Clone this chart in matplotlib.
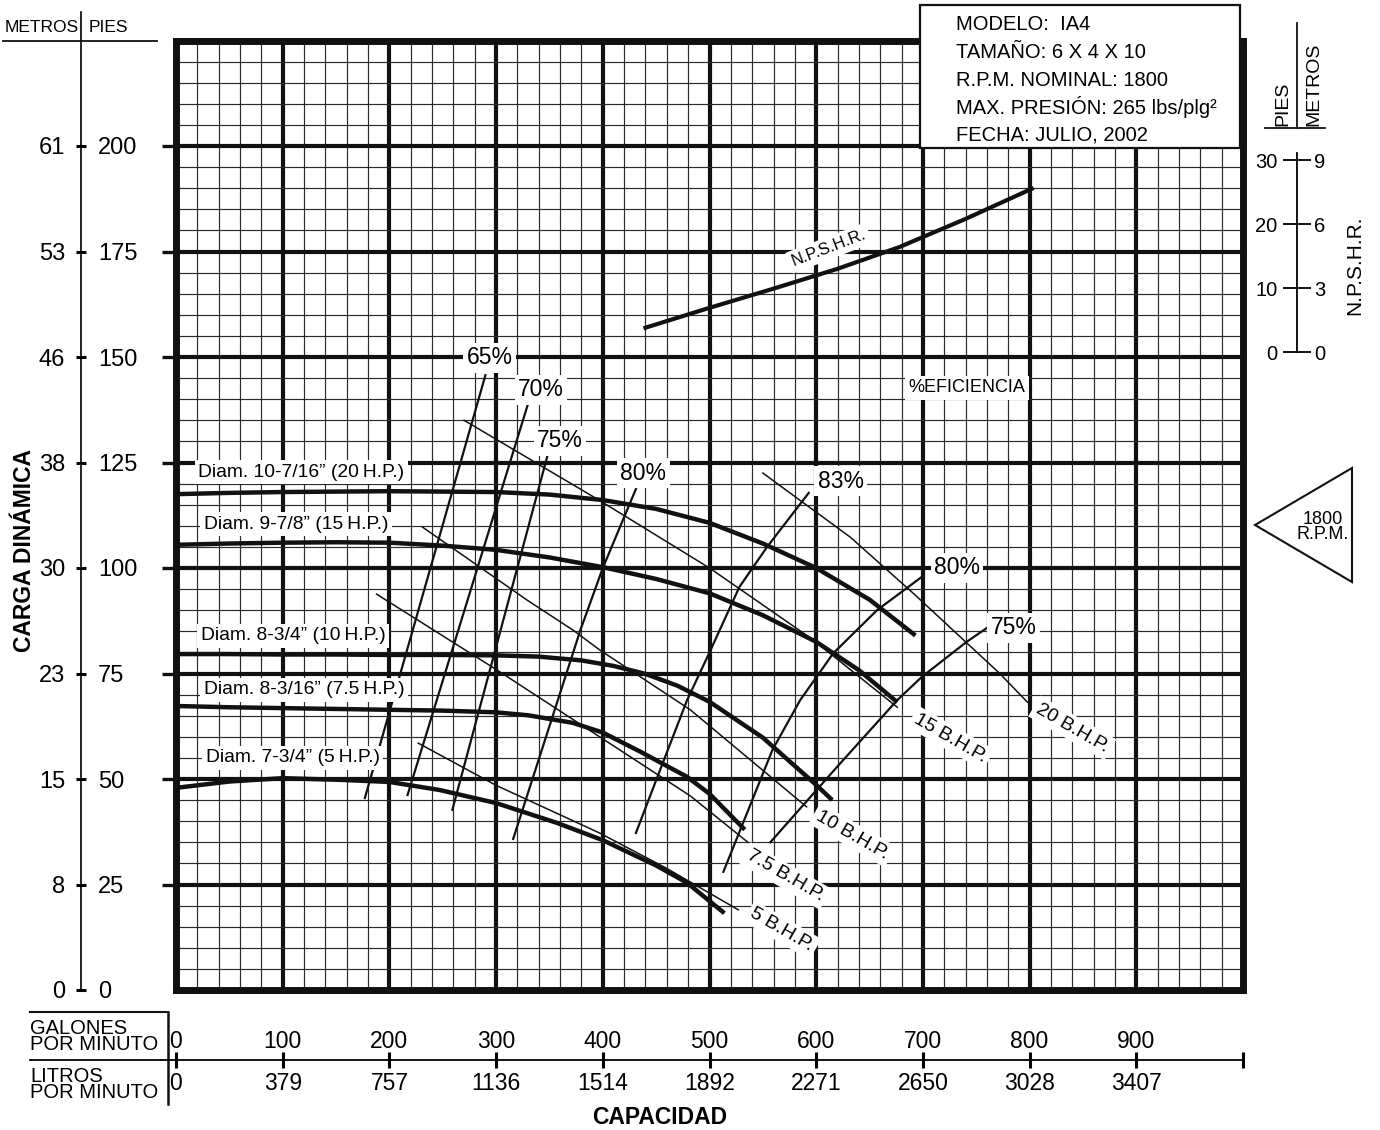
import numpy as np
import matplotlib
matplotlib.use("Agg")
import matplotlib.pyplot as plt
from matplotlib.patches import Rectangle, Polygon
from matplotlib.lines import Line2D

plt.rcParams['font.family'] = ['Liberation Sans', 'DejaVu Sans']

# ---- data (capacity in gpm, head in ft) ----
h20_q = [0, 50, 100, 150, 200, 250, 300, 350, 400, 450, 500, 550, 600, 650, 693]
h20_h = [117.5, 117.8, 118, 118.1, 118.2, 118.1, 118, 117.4, 116.1, 114, 110.7, 105.8, 100, 92.5, 84]
h15_q = [0, 50, 100, 150, 200, 250, 300, 350, 400, 450, 500, 550, 600, 640, 676]
h15_h = [105.5, 105.8, 106, 106.1, 106, 105.3, 104.3, 102.5, 100.2, 97.4, 94, 88.8, 82.5, 75.8, 68.2]
h10_q = [0, 50, 100, 150, 200, 250, 300, 340, 380, 410, 440, 470, 500, 550, 600, 615]
h10_h = [79.6, 79.6, 79.5, 79.5, 79.4, 79.4, 79.3, 79, 78.1, 76.8, 74.9, 72.1, 68.3, 59.8, 48.6, 45]
h75_q = [0, 50, 100, 150, 200, 250, 300, 330, 372, 400, 435, 479, 500, 533]
h75_h = [67.3, 67, 66.8, 66.6, 66.4, 66.2, 65.8, 65.1, 63.3, 61, 56.5, 50.5, 46.5, 38]
h5_q = [0, 50, 100, 154, 200, 247, 300, 357, 400, 450, 479, 514]
h5_h = [47.9, 49.4, 50.2, 49.8, 49.3, 47.4, 44.3, 39.6, 35.5, 29.5, 25.4, 18.2]

diam_labels = ['Diam. 10-7/16\u201d (20\u2009H.P.)', 'Diam. 9-7/8\u201d (15\u2009H.P.)',
               'Diam. 8-3/4\u201d (10\u2009H.P.)', 'Diam. 8-3/16\u201d (7.5\u2009H.P.)',
               'Diam. 7-3/4\u201d (5\u2009H.P.)']
diam_lab_q = [21, 26, 23, 26, 28]
diam_lab_h = [122.7, 110.4, 83.9, 71.1, 55]

# efficiency iso-lines
e65_q, e65_h = [177, 290], [45.5, 145.7]
e70_q, e70_h = [217, 331], [46.2, 139.8]
e75_q, e75_h = [259, 348], [42.7, 126.5]
e80a_q, e80a_h = [316, 379, 400, 431], [35.8, 85.3, 100, 118.7]
e83_q, e83_h = [431, 455, 479, 500, 528, 554, 593], [37.2, 53, 68.7, 80, 95.5, 105, 117.8]
e80b_q, e80b_h = [513, 559, 585, 616, 657, 699], [28, 56.9, 68.7, 79.8, 90, 97.9]
e75b_q, e75b_h = [557, 620, 676, 699, 741, 760], [35, 53, 68.7, 74.2, 82.5, 85.8]
eff_labels = ['65%', '70%', '75%', '80%', '83%', '80%', '75%']
eff_lab_q = [294, 342, 360, 438, 623, 732, 785]
eff_lab_h = [149.8, 142.2, 130.1, 122.5, 120.6, 100, 85.8]

# brake horsepower lines
b20_q, b20_h = [550, 632, 691, 772, 798], [122.5, 107.3, 94, 75, 68.2]
b15_q, b15_h = [270, 397, 500, 597, 676], [135, 116, 100, 83, 67]
b10_q, b10_h = [231, 329, 372, 397, 482, 591], [109.7, 92.4, 85.3, 80.6, 66.4, 43.4]
b75_q, b75_h = [188, 301, 397, 482, 536], [93.8, 75.8, 60, 46, 35]
b5_q, b5_h = [227, 300, 397, 460, 527], [58.5, 48.5, 37.2, 28.8, 19]
bhp_labels = ['20 B.H.P.', '15 B.H.P.', '10 B.H.P.', '7.5 B.H.P.', '5 B.H.P.']
bhp_lab_q = [840, 726, 634, 571, 568]
bhp_lab_h = [62.1, 59.7, 36.7, 27.0, 14.2]

# NPSHR (ft, on its own scale)
npsh_q = [440, 500, 560, 620, 678, 740, 802]
npsh_h = [3.8, 6.9, 9.9, 13.0, 16.4, 20.8, 25.5]

head_ticks = [0, 25, 50, 75, 100, 125, 150, 175, 200]
metros_labels = ['0', '8', '15', '23', '30', '38', '46', '53', '61']
pies_labels = ['0', '25', '50', '75', '100', '125', '150', '175', '200']
gpm_ticks = [0, 100, 200, 300, 400, 500, 600, 700, 800, 900, 1000]
gpm_labels = ['0', '100', '200', '300', '400', '500', '600', '700', '800', '900', '']
lpm_labels = ['0', '379', '757', '1136', '1514', '1892', '2271', '2650', '3028', '3407', '']
npsh_ticks = [0, 10, 20, 30]
npsh_pies = ['0', '10', '20', '30']
npsh_metros = ['0', '3', '6', '9']

info_lines = ['MODELO:  IA4', 'TAMAÑO: 6 X 4 X 10', 'R.P.M. NOMINAL: 1800',
              'MAX. PRESIÓN: 265 lbs/plg\u00b2', 'FECHA: JULIO, 2002']

W, H = 1380, 1130
fig = plt.figure(figsize=(W / 100, H / 100), dpi=100)


def fx(px):
    return px / W


def fy(py):
    return 1 - py / H


PX_FT = 4.22   # pixels per foot of head
PX_N = 6.4     # pixels per foot of NPSHR
y0, ytop = 990, 40.5

# ---- main chart ----
ax = fig.add_axes([fx(176), fy(y0), 1067 / W, (y0 - ytop) / H])
ax.set_xlim(0, 1000)
ax.set_ylim(0, 225)
ax.set_xticks(np.arange(100, 1000, 100))
ax.set_xticks(np.arange(0, 1001, 20), minor=True)
ax.set_yticks(np.arange(25, 225, 25))
ax.set_yticks(np.arange(0, 226, 5), minor=True)
ax.set_axisbelow(True)
ax.grid(which='minor', color='#2b2b2b', lw=0.85)
ax.grid(which='major', color='#111111', lw=3.0)
ax.tick_params(axis='x', which='both', length=0, labelbottom=False)
ax.tick_params(axis='y', which='minor', length=0)
ax.tick_params(axis='y', which='major', direction='out', length=10, width=2.4,
               color='#111111', labelleft=False)
for s in ax.spines.values():
    s.set_linewidth(5)
    s.set_color('#111111')

lab_box = dict(facecolor='white', edgecolor='none', pad=2.5)

for q, h in [(h20_q, h20_h), (h15_q, h15_h), (h10_q, h10_h), (h75_q, h75_h), (h5_q, h5_h)]:
    ax.plot(q, h, color='#111111', lw=3.2, solid_capstyle='butt', zorder=3)
for lab, q, h in zip(diam_labels, diam_lab_q, diam_lab_h):
    ax.text(q, h, lab, fontsize=13.9, ha='left', va='center', bbox=lab_box, zorder=4)

for q, h in [(e65_q, e65_h), (e70_q, e70_h), (e75_q, e75_h), (e80a_q, e80a_h),
             (e83_q, e83_h), (e80b_q, e80b_h), (e75b_q, e75b_h)]:
    ax.plot(q, h, color='#111111', lw=1.6, zorder=3)
for lab, q, h in zip(eff_labels, eff_lab_q, eff_lab_h):
    ax.text(q, h, lab, fontsize=16.5, ha='center', va='center', bbox=lab_box, zorder=4)
ax.text(741, 142.7, '%EFICIENCIA', fontsize=13, ha='center', va='center',
        bbox=lab_box, zorder=4)

for q, h in [(b20_q, b20_h), (b15_q, b15_h), (b10_q, b10_h), (b75_q, b75_h), (b5_q, b5_h)]:
    ax.plot(q, h, color='#111111', lw=1.1, zorder=3)
for lab, q, h in zip(bhp_labels, bhp_lab_q, bhp_lab_h):
    ax.text(q, h, lab, fontsize=14, ha='center', va='center', rotation=-30,
            rotation_mode='anchor', bbox=lab_box, zorder=4)

# NPSHR on a twin scale sharing the same pixels
axn_main = ax.twinx()
axn_main.set_ylim(-(y0 - 352) / PX_N, (352 - ytop) / PX_N)
axn_main.axis('off')
axn_main.plot(npsh_q, npsh_h, color='#111111', lw=3.0, zorder=3)
axn_main.text(612, (352 - 248) / PX_N, 'N.P.S.H.R.', fontsize=12, ha='center',
              va='center', rotation=21, rotation_mode='anchor', bbox=lab_box, zorder=4)

# ---- left head scale ----
axl = fig.add_axes([fx(81), fy(y0), 0.0001, (y0 - 12) / H])
axl2 = axl.twinx()
axl.set_ylim(0, (y0 - 12) / PX_FT)
axl2.set_ylim(axl.get_ylim())
for a in (axl, axl2):
    a.set_xticks([])
    for s in a.spines.values():
        s.set_visible(False)
axl.spines['left'].set_visible(True)
axl.spines['left'].set_linewidth(1.2)
axl.set_yticks(head_ticks)
axl.set_yticklabels(metros_labels)
axl.tick_params(axis='y', direction='inout', length=7, width=2.2, labelsize=17, pad=8)
axl2.set_yticks(head_ticks)
axl2.set_yticklabels(pies_labels)
axl2.tick_params(axis='y', length=0, labelsize=17, pad=12)
fig.text(fx(42), fy(27), 'METROS', fontsize=12.5, ha='center', va='center')
fig.text(fx(89), fy(27), 'PIES', fontsize=12.5, ha='left', va='center')
fig.add_artist(Line2D([fx(3), fx(157)], [fy(41), fy(41)], color='#111111', lw=1.3))
fig.text(fx(25), fy(550), 'CARGA DINÁMICA', fontsize=16.5, fontweight='bold',
         rotation=90, ha='center', va='center')

# ---- bottom capacity scale ----
axb = fig.add_axes([fx(30), fy(1060), (1243 - 30) / W, 0.0001])
axb2 = axb.twiny()
axb.set_xlim(-(176 - 30) / 1.067, 1000)
axb2.set_xlim(axb.get_xlim())
for a in (axb, axb2):
    a.set_yticks([])
    for s in a.spines.values():
        s.set_visible(False)
axb.spines['bottom'].set_visible(True)
axb.spines['bottom'].set_linewidth(1.3)
axb.set_xticks(gpm_ticks)
axb.set_xticklabels(lpm_labels)
axb.tick_params(axis='x', direction='inout', length=12, width=2.2, bottom=True, top=False,
                labelbottom=True, labeltop=False, labelsize=16.5, pad=2.5)
axb2.set_xticks(gpm_ticks)
axb2.set_xticklabels(gpm_labels)
axb2.tick_params(axis='x', length=0, bottom=False, top=False, labelbottom=False,
                 labeltop=True, labelsize=16.5, pad=5)
fig.add_artist(Line2D([fx(30), fx(168)], [fy(1012), fy(1012)], color='#111111', lw=1.5))
fig.add_artist(Line2D([fx(168), fx(168)], [fy(1012), fy(1104)], color='#111111', lw=1.8))
fig.text(fx(30), fy(1036), 'GALONES\nPOR MINUTO', fontsize=14.5, ha='left', va='center',
         linespacing=0.8)
fig.text(fx(30), fy(1084), 'LITROS\nPOR MINUTO', fontsize=14.5, ha='left', va='center',
         linespacing=0.8)
fig.text(fx(660), fy(1117), 'CAPACIDAD', fontsize=16.5, fontweight='bold',
         ha='center', va='center')

# ---- right NPSHR scale ----
axr = fig.add_axes([fx(1297), fy(352), 0.0001, (352 - 153) / H])
axr2 = axr.twinx()
axr.set_ylim(0, (352 - 153) / PX_N)
axr2.set_ylim(axr.get_ylim())
for a in (axr, axr2):
    a.set_xticks([])
    for s in a.spines.values():
        s.set_visible(False)
axr.spines['left'].set_visible(True)
axr.spines['left'].set_linewidth(1.3)
axr.set_yticks(npsh_ticks)
axr.set_yticklabels(npsh_pies)
axr.tick_params(axis='y', direction='inout', length=20, width=1.3, labelsize=14.5, pad=4)
axr2.set_yticks(npsh_ticks)
axr2.set_yticklabels(npsh_metros)
axr2.tick_params(axis='y', length=0, labelsize=14.5, pad=12)
fig.add_artist(Line2D([fx(1297), fx(1297)], [fy(23), fy(128)], color='#111111', lw=1.3))
fig.add_artist(Line2D([fx(1265), fx(1325)], [fy(128), fy(128)], color='#111111', lw=1.3))
fig.text(fx(1283), fy(126), 'PIES', fontsize=14, rotation=90, ha='center', va='bottom')
fig.text(fx(1314), fy(126), 'METROS', fontsize=14, rotation=90, ha='center', va='bottom')
fig.text(fx(1355), fy(265), 'N.P.S.H.R.', fontsize=15, rotation=90, ha='center', va='center')

# speed marker
fig.add_artist(Polygon([[fx(1255), fy(525)], [fx(1352), fy(468)], [fx(1352), fy(582)]],
                       closed=True, facecolor='white', edgecolor='#111111', lw=1.5,
                       transform=fig.transFigure))
fig.text(fx(1323), fy(527), '1800\nR.P.M.', fontsize=13, ha='center', va='center',
         linespacing=0.9)

# ---- info box ----
fig.add_artist(Rectangle((fx(920), fy(148)), (1240 - 920) / W, (148 - 5) / H,
                         facecolor='white', edgecolor='#111111', lw=1.6,
                         transform=fig.transFigure, zorder=5))
for i, line in enumerate(info_lines):
    fig.text(fx(956), fy(25 + i * 27.5), line, fontsize=14.5, ha='left', va='center',
             zorder=6)

fig.savefig('out.png', dpi=100, facecolor='white')
